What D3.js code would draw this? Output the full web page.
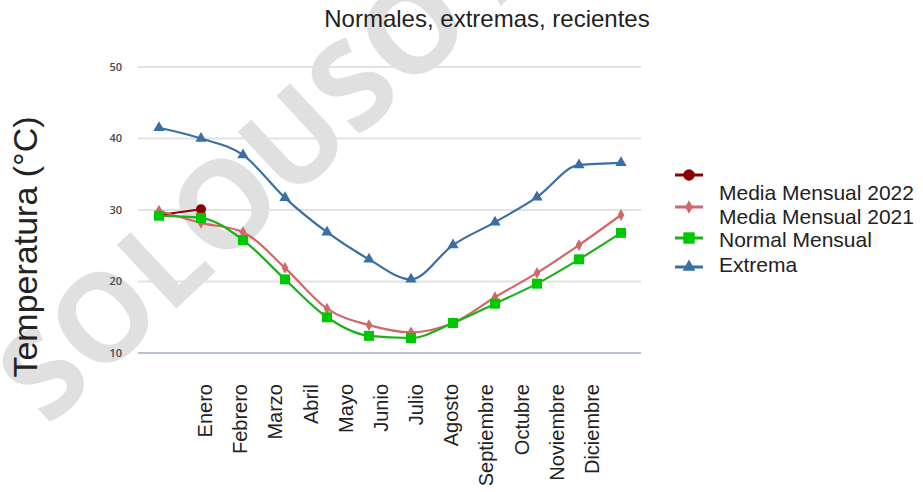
<!DOCTYPE html>
<html>
<head>
<meta charset="utf-8">
<script src="https://cdn.jsdelivr.net/npm/d3@7"></script>
<style>
  html, body { margin: 0; padding: 0; background: #fff; }
  svg { display: block; }
</style>
</head>
<body>
<svg id="chart" width="923" height="492"></svg>
<script>
// Months shown on the category axis
const months = ["Enero", "Febrero", "Marzo", "Abril", "Mayo", "Junio",
                "Julio", "Agosto", "Septiembre", "Octubre", "Noviembre", "Diciembre"];

// Monthly temperatures (°C)
const media2022 = [29.3, 30.1];
const media2021 = [29.9, 28.2, 26.9, 21.9, 16.2, 13.9, 12.9, 14.2, 17.8, 21.2, 25.1, 29.3];
const normalMensual = [29.2, 28.9, 25.8, 20.3, 15.0, 12.4, 12.1, 14.2, 16.9, 19.7, 23.1, 26.8];
const extrema = [41.5, 40.0, 37.7, 31.7, 26.9, 23.1, 20.3, 25.1, 28.3, 31.8, 36.3, 36.6];

// Value-axis ticks
const yTicks = [10, 20, 30, 40, 50];

const seriesNames = ["Media Mensual 2022", "Media Mensual 2021", "Normal Mensual", "Extrema"];

const svg = d3.select("#chart");

const y = d3.scaleLinear().domain([10, 50]).range([353, 67]);
const xData = d3.scalePoint().domain(months).range([159, 621]);
const xLabel = d3.scalePoint().domain(months).range([205, 592]);

const gridLeft = 138, gridRight = 641;

// Watermark, kept underneath everything else
svg.append("text")
  .attr("transform", "translate(48,428) rotate(-43)")
  .attr("font-family", "'Open Sans', 'DejaVu Sans', sans-serif")
  .attr("font-weight", 700)
  .attr("font-size", 122)
  .attr("fill", "#e0e0e0")
  .text("SOLOUSO A");

// Gridlines
svg.append("g")
  .selectAll("line")
  .data(yTicks)
  .join("line")
  .attr("x1", gridLeft).attr("x2", gridRight)
  .attr("y1", d => y(d)).attr("y2", d => y(d))
  .attr("stroke", d => d === 10 ? "#b9c2d4" : "#e2e2e2")
  .attr("stroke-width", 2);

// Value-axis tick labels
svg.append("g")
  .selectAll("text")
  .data(yTicks)
  .join("text")
  .attr("x", 122)
  .attr("y", d => y(d))
  .attr("dy", "0.35em")
  .attr("text-anchor", "end")
  .attr("font-family", "'Open Sans', sans-serif")
  .attr("font-size", 11)
  .attr("font-weight", 600)
  .attr("fill", "#4a4a4a")
  .text(d => d);

// Category labels, rotated
svg.append("g")
  .selectAll("text")
  .data(months)
  .join("text")
  .attr("transform", d => `translate(${xLabel(d)},384) rotate(-90)`)
  .attr("dy", "0.35em")
  .attr("text-anchor", "end")
  .attr("font-family", "'Liberation Sans', Arial, sans-serif")
  .attr("font-size", 20)
  .attr("fill", "#222")
  .text(d => d);

// Series styles
const styles = [
  { name: seriesNames[0], data: media2022, line: "#8b0000", fill: "#8b0000", shape: d3.symbolCircle, size: 80 },
  { name: seriesNames[1], data: media2021, line: "#d0686a", fill: "#d0686a", shape: d3.symbolDiamond, size: 40 },
  { name: seriesNames[2], data: normalMensual, line: "#1db01d", fill: "#00c800", shape: d3.symbolSquare, size: 100 },
  { name: seriesNames[3], data: extrema, line: "#3a6ea6", fill: "#3a6ea6", shape: d3.symbolTriangle, size: 55 }
];

const lineGen = d3.line()
  .x((d, i) => xData(months[i]))
  .y(d => y(d))
  .curve(d3.curveMonotoneX);

styles.forEach(s => {
  const g = svg.append("g");
  g.append("path")
    .attr("d", lineGen(s.data))
    .attr("fill", "none")
    .attr("stroke", s.line)
    .attr("stroke-width", 2.2);
  g.selectAll("path.mk")
    .data(s.data)
    .join("path")
    .attr("class", "mk")
    .attr("transform", (d, i) => `translate(${xData(months[i])},${y(d)})`)
    .attr("d", d3.symbol().type(s.shape).size(s.size))
    .attr("fill", s.fill);
});

// Title
svg.append("text")
  .attr("x", 487).attr("y", 27)
  .attr("text-anchor", "middle")
  .attr("font-family", "'Liberation Sans', Arial, sans-serif")
  .attr("font-size", 24)
  .attr("fill", "#222")
  .text("Normales, extremas, recientes");

// Vertical axis title
svg.append("text")
  .attr("transform", "translate(37,247) rotate(-90)")
  .attr("text-anchor", "middle")
  .attr("font-family", "'Liberation Sans', Arial, sans-serif")
  .attr("font-size", 34)
  .attr("fill", "#222")
  .text("Temperatura (°C)");

// Legend
const legendMarkY = [175, 207, 238, 267];
const legendTextY = [193, 217, 240, 265];
const legend = svg.append("g");
styles.forEach((s, i) => {
  legend.append("line")
    .attr("x1", 675).attr("x2", 703)
    .attr("y1", legendMarkY[i]).attr("y2", legendMarkY[i])
    .attr("stroke", s.line)
    .attr("stroke-width", 3);
  legend.append("path")
    .attr("transform", `translate(689,${legendMarkY[i]})`)
    .attr("d", d3.symbol().type(s.shape).size(s.size * 1.3))
    .attr("fill", s.fill);
  legend.append("text")
    .attr("x", 719).attr("y", legendTextY[i])
    .attr("dy", "0.35em")
    .attr("font-family", "'Liberation Sans', Arial, sans-serif")
    .attr("font-size", 21)
    .attr("fill", "#222")
    .text(s.name);
});
</script>
</body>
</html>
